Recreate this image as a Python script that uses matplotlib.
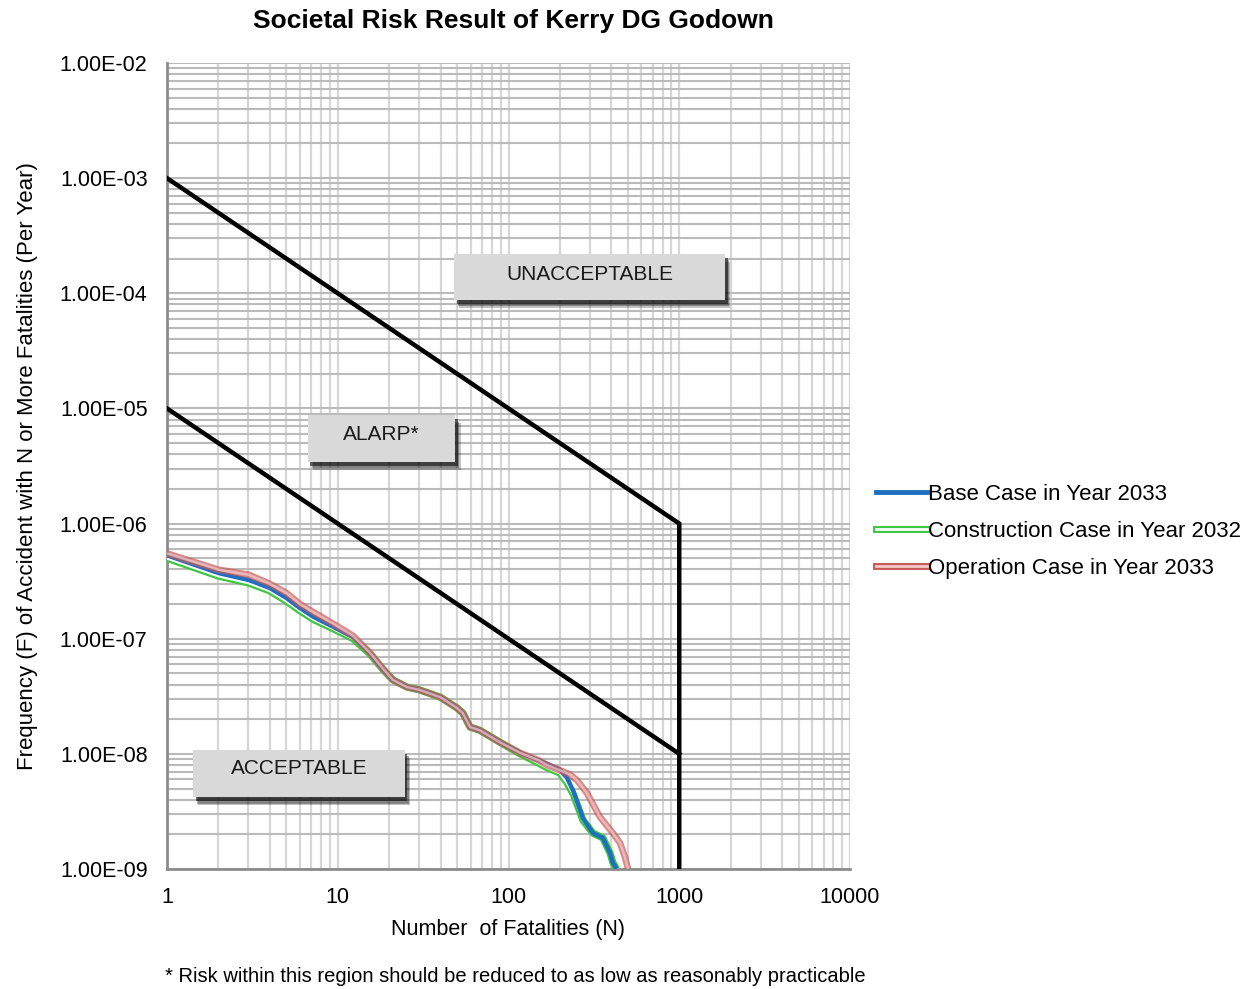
import matplotlib
matplotlib.use("Agg")
import matplotlib.pyplot as plt
import numpy as np
from matplotlib.patches import Rectangle
from matplotlib.legend_handler import HandlerTuple
from matplotlib.lines import Line2D
from matplotlib.ticker import LogLocator, NullFormatter

plt.rcParams['font.family'] = ['Liberation Sans', 'DejaVu Sans']

# ---------------- data ----------------
base_N = [1, 2, 3, 4, 5, 6, 7.2, 9.4, 12.3, 15.4, 18.4, 21, 25.4, 30, 40, 50, 54, 59.5, 68,
          90, 117, 150, 168, 200, 220, 239, 273, 312, 357, 393, 409, 430]
base_F = [5.3e-7, 3.72e-7, 3.24e-7, 2.76e-7, 2.26e-7, 1.85e-7, 1.55e-7, 1.27e-7, 1.03e-7,
          7.5e-8, 5.4e-8, 4.4e-8, 3.8e-8, 3.6e-8, 3.1e-8, 2.5e-8, 2.26e-8, 1.71e-8, 1.6e-8,
          1.25e-8, 1.02e-8, 8.8e-9, 8.2e-9, 7.3e-9, 6.2e-9, 4.8e-9, 2.75e-9, 2.05e-9,
          1.86e-9, 1.38e-9, 1.13e-9, 1.0e-9]

constr_N = [1, 2, 3, 4, 5, 6, 7.2, 9.4, 12.3, 15.4, 18.4, 21, 25.4, 30, 40, 50, 54, 59.5, 68,
            90, 117, 150, 168, 200, 220, 239, 273, 312, 357, 393, 409, 430]
constr_F = [5.0e-7, 3.5e-7, 3.05e-7, 2.6e-7, 2.12e-7, 1.75e-7, 1.47e-7, 1.22e-7, 1.0e-7,
            7.4e-8, 5.4e-8, 4.4e-8, 3.8e-8, 3.6e-8, 3.1e-8, 2.5e-8, 2.26e-8, 1.71e-8, 1.6e-8,
            1.25e-8, 1.0e-8, 8.3e-9, 7.6e-9, 6.8e-9, 5.6e-9, 4.5e-9, 2.65e-9, 2.05e-9,
            1.86e-9, 1.38e-9, 1.13e-9, 1.0e-9]

oper_N = [1, 2, 3, 4, 5, 6, 7.2, 9.4, 12.3, 15.4, 18.4, 21, 25.4, 30, 40, 50, 54, 59.5, 68,
          90, 117, 150, 168, 200, 230, 252, 288, 343, 409, 450, 481, 501]
oper_F = [5.5e-7, 3.98e-7, 3.6e-7, 3.0e-7, 2.5e-7, 2.0e-7, 1.7e-7, 1.35e-7, 1.06e-7,
          7.6e-8, 5.5e-8, 4.4e-8, 3.8e-8, 3.6e-8, 3.1e-8, 2.5e-8, 2.26e-8, 1.71e-8, 1.6e-8,
          1.25e-8, 1.02e-8, 8.8e-9, 8.0e-9, 7.2e-9, 6.6e-9, 5.9e-9, 4.57e-9, 2.83e-9,
          2.05e-9, 1.68e-9, 1.27e-9, 1.0e-9]

upper_N = [1, 1000, 1000]
upper_F = [1e-3, 1e-6, 1e-9]
lower_N = [1, 1000]
lower_F = [1e-5, 1e-8]

x_ticks = [1, 10, 100, 1000, 10000]
x_labels = ["1", "10", "100", "1000", "10000"]
y_ticks = [1e-9, 1e-8, 1e-7, 1e-6, 1e-5, 1e-4, 1e-3, 1e-2]
y_labels = ["1.00E-09", "1.00E-08", "1.00E-07", "1.00E-06", "1.00E-05", "1.00E-04",
            "1.00E-03", "1.00E-02"]

series_names = ["Base Case in Year 2033", "Construction Case in Year 2032",
                "Operation Case in Year 2033"]

# ---------------- figure ----------------
W, H = 1249, 989
fig = plt.figure(figsize=(W / 100, H / 100), dpi=100)
L, R, T, B = 167, 850, 63, 869
ax = fig.add_axes([L / W, (H - B) / H, (R - L) / W, (B - T) / H])
ax.set_xscale('log')
ax.set_yscale('log')
ax.set_xlim(1, 10000)
ax.set_ylim(1e-9, 1e-2)

# grid
ax.xaxis.set_minor_locator(LogLocator(base=10, subs=np.arange(2, 10)))
ax.yaxis.set_minor_locator(LogLocator(base=10, subs=np.arange(2, 10)))
ax.xaxis.set_minor_formatter(NullFormatter())
ax.yaxis.set_minor_formatter(NullFormatter())
ax.grid(True, which='both', axis='x', color='#d6d6d6', lw=1.6, zorder=0)
ax.grid(True, which='both', axis='y', color='#bababa', lw=1.5, zorder=0)
ax.set_axisbelow(True)

ax.set_xticks(x_ticks)
ax.set_xticklabels(x_labels)
ax.set_yticks(y_ticks)
ax.set_yticklabels(y_labels)
ax.tick_params(which='both', length=0)
ax.tick_params(axis='x', pad=13, labelsize=15.5)
ax.tick_params(axis='y', pad=14, labelsize=15.5)

for s in ['top', 'right']:
    ax.spines[s].set_visible(False)
for s in ['left', 'bottom']:
    ax.spines[s].set_color('#8c8c8c')
    ax.spines[s].set_linewidth(2)

# criteria lines
ax.plot(upper_N, upper_F, color='black', lw=3.2, zorder=4, solid_joinstyle='miter')
ax.plot(lower_N, lower_F, color='black', lw=3.2, zorder=4)

# curves
green_out, green_in = '#3cc83c', 'white'
red_out, red_in = '#c85a58', '#f2cccc'
blue = '#1f6fbf'
kw = dict(solid_capstyle='butt', solid_joinstyle='round')
ax.plot(constr_N, constr_F, color=green_out, lw=5.2, zorder=5, **kw)
ax.plot(constr_N, constr_F, color=green_in, lw=2.0, zorder=5, **kw)
ax.plot(base_N, base_F, color=blue, lw=3.2, zorder=6, **kw)
ax.plot(oper_N, oper_F, color=red_out, lw=4.8, zorder=7, alpha=0.7, **kw)
ax.plot(oper_N, oper_F, color=red_in, lw=1.8, zorder=7, alpha=0.7, **kw)


# region label boxes
def box(x0, y0, x1, y1, label, ty):
    for dx, dy, a in [(0.008, -0.010, 0.25), (0.006, -0.008, 0.35), (0.004, -0.005, 0.6)]:
        ax.add_patch(Rectangle((x0 + dx, y0 + dy), x1 - x0, y1 - y0, transform=ax.transAxes,
                               facecolor='#101010', edgecolor='none', alpha=a, zorder=8))
    ax.add_patch(Rectangle((x0, y0), x1 - x0, y1 - y0, transform=ax.transAxes,
                           facecolor='#d9d9d9', edgecolor='none', zorder=9))
    ax.text((x0 + x1) / 2, ty, label, transform=ax.transAxes, ha='center', va='center',
            fontsize=15, color='#1a1a1a', zorder=10)


box(0.420, 0.706, 0.817, 0.763, "UNACCEPTABLE", (869 - 275) / 806)
box(0.206, 0.505, 0.422, 0.563, "ALARP*", (869 - 435) / 806)
box(0.038, 0.089, 0.348, 0.148, "ACCEPTABLE", (869 - 769) / 806)

# title and labels
fig.text(513 / W, 1 - 21 / H, "Societal Risk Result of Kerry DG Godown", ha='center',
         va='center', fontsize=19, fontweight='bold')
fig.text(508 / W, 1 - 929 / H, "Number  of Fatalities (N)", ha='center', va='center',
         fontsize=15.5)
fig.text(28 / W, 1 - 466 / H,
         "Frequency (F) of Accident with N or More Fatalities (Per Year)",
         ha='center', va='center', rotation=90, fontsize=16)
fig.text(165 / W, 1 - 977 / H,
         "* Risk within this region should be reduced to as low as reasonably practicable",
         ha='left', va='center', fontsize=14.5)

# legend
h_base = (Line2D([], [], color=blue, lw=3.5),)
h_con = (Line2D([], [], color=green_out, lw=5.0), Line2D([], [], color='white', lw=2.0))
h_op = (Line2D([], [], color=red_out, lw=5.0), Line2D([], [], color=red_in, lw=2.0))
fig.legend([h_base, h_con, h_op], series_names,
           handler_map={tuple: HandlerTuple(ndivide=1)},
           loc='upper left', bbox_to_anchor=(876 / W, 1 - 484 / H),
           frameon=False, fontsize=16, handlelength=2.3, handletextpad=0.05,
           labelspacing=0.72, borderpad=0, borderaxespad=0)

fig.savefig("out.png", dpi=100)
